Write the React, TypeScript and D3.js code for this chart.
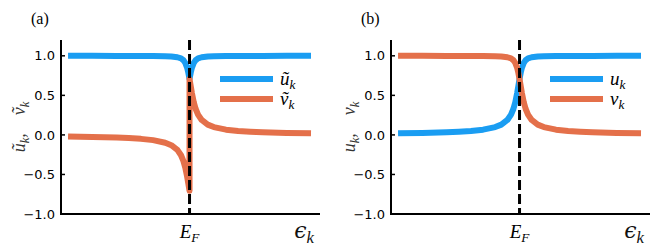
import * as d3 from "d3";

// energy grid (E_F = 0), dense near the Fermi level
const eps = [-1, -0.8, -0.6, -0.5, -0.4, -0.3, -0.2, -0.15, -0.1, -0.07, -0.05, -0.035, -0.02, -0.01, 0,
  0.01, 0.02, 0.035, 0.05, 0.07, 0.1, 0.15, 0.2, 0.3, 0.4, 0.5, 0.6, 0.8, 1];

// panel (b): u_k, v_k
const uK = [0.02, 0.025, 0.033, 0.04, 0.05, 0.066, 0.099, 0.13, 0.189, 0.257, 0.331, 0.413, 0.526, 0.615, 0.707,
  0.788, 0.851, 0.911, 0.944, 0.967, 0.982, 0.992, 0.995, 0.998, 0.999, 0.999, 0.999, 1.0, 1.0];
const vK = [1.0, 1.0, 0.999, 0.999, 0.999, 0.998, 0.995, 0.992, 0.982, 0.967, 0.944, 0.911, 0.851, 0.788, 0.707,
  0.615, 0.526, 0.413, 0.331, 0.257, 0.189, 0.13, 0.099, 0.066, 0.05, 0.04, 0.033, 0.025, 0.02];

// panel (a): ũ_k, ṽ_k (jump at E_F, so 0 appears twice)
const epsA = [-1, -0.8, -0.6, -0.5, -0.4, -0.3, -0.2, -0.15, -0.1, -0.07, -0.05, -0.035, -0.02, -0.01, 0, 0,
  0.01, 0.02, 0.035, 0.05, 0.07, 0.1, 0.15, 0.2, 0.3, 0.4, 0.5, 0.6, 0.8, 1];
const uTilde = [1.0, 1.0, 0.999, 0.999, 0.999, 0.998, 0.995, 0.992, 0.982, 0.967, 0.944, 0.911, 0.851, 0.788, 0.707, 0.707,
  0.788, 0.851, 0.911, 0.944, 0.967, 0.982, 0.992, 0.995, 0.998, 0.999, 0.999, 0.999, 1.0, 1.0];
const vTilde = [-0.02, -0.025, -0.033, -0.04, -0.05, -0.066, -0.099, -0.13, -0.189, -0.257, -0.331, -0.413, -0.526, -0.615, -0.707, 0.707,
  0.615, 0.526, 0.413, 0.331, 0.257, 0.189, 0.13, 0.099, 0.066, 0.05, 0.04, 0.033, 0.025, 0.02];

const yTicks = [-1, -0.5, 0, 0.5, 1];

const BLUE = "#1a9df2";
const ORANGE = "#e4704a";
const SERIF = "'Liberation Serif', 'DejaVu Serif', serif";
const SANS = "'DejaVu Sans', sans-serif";

const x = d3.scaleLinear().domain([-1.058, 1.074]).range([61, 320]);
const y = d3.scaleLinear().domain([-1, 1.2]).range([214, 40]);

type Series = { xs: number[]; ys: number[]; color: string; label: string };

function Sub({ base, sub, size, family }: { base: string; sub: string; size: number; family?: string }) {
  return (
    <>
      <tspan fontFamily={family}>{base}</tspan>
      <tspan fontFamily={SERIF} fontSize={size * 0.7} dy={size * 0.2}>{sub}</tspan>
    </>
  );
}

function Panel({ dx, tag, series, yLabel }: { dx: number; tag: string; series: Series[]; yLabel: [string, string] }) {
  const line = d3.line<[number, number]>().x((d) => x(d[0])).y((d) => y(d[1]));
  const x0 = x.range()[0];
  const x1 = x.range()[1];
  const yb = y.range()[0];
  const yt = y.range()[1];
  return (
    <g transform={`translate(${dx},0)`}>
      <text x={31} y={24} fontFamily={SERIF} fontSize={16}>{tag}</text>

      {series.map((s) => (
        <path key={s.label} d={line(s.xs.map((v, i) => [v, s.ys[i]]) as [number, number][]) ?? ""}
          fill="none" stroke={s.color} strokeWidth={6} strokeLinejoin="round" />
      ))}

      <line x1={x(0)} x2={x(0)} y1={yt} y2={yb} stroke="#000" strokeWidth={3} strokeDasharray="10,4" />

      {/* spines */}
      <line x1={x0} x2={x0} y1={yt} y2={yb + 1} stroke="#000" strokeWidth={2} />
      <line x1={x0 - 1} x2={x1} y1={yb} y2={yb} stroke="#000" strokeWidth={2} />

      {yTicks.map((t) => (
        <g key={t}>
          <line x1={x0} x2={x0 + 4} y1={y(t)} y2={y(t)} stroke="#000" strokeWidth={1.5} />
          <text x={55} y={y(t)} dy="0.36em" textAnchor="end" fontFamily={SANS} fontSize={13}>
            {d3.format(".1f")(t).replace("-", "\u2212")}
          </text>
        </g>
      ))}
      <line x1={x(0)} x2={x(0)} y1={yb} y2={yb - 4} stroke="#000" strokeWidth={1.5} />

      <text x={x(0)} y={238} textAnchor="middle" fontFamily={SERIF} fontStyle="italic" fontSize={19}>
        <Sub base="E" sub="F" size={19} />
      </text>
      <text x={314} y={238} textAnchor="end" fontFamily={SERIF} fontStyle="italic" fontSize={22} fill="#111">
        <Sub base={"\u03f5"} sub="k" size={24} family="'DejaVu Serif', serif" />
      </text>

      <text transform={`translate(25,127) rotate(-90)`} textAnchor="middle" fontFamily={SERIF}
        fontStyle="italic" fontSize={18} fill="#333">
        <Sub base={yLabel[0]} sub="k" size={18} />
        <tspan dy={-18 * 0.2}>{",\u2002\u2002"}</tspan>
        <Sub base={yLabel[1]} sub="k" size={18} />
      </text>

      {series.map((s, i) => (
        <g key={"lg" + s.label} transform={`translate(0,${79 + i * 20})`}>
          <line x1={220} x2={273} y1={0} y2={0} stroke={s.color} strokeWidth={6} />
          <text x={280} y={6} fontFamily={SERIF} fontStyle="italic" fontSize={19}>
            <Sub base={s.label} sub="k" size={19} />
          </text>
        </g>
      ))}
    </g>
  );
}

export default function App() {
  return (
    <svg width={672} height={246} style={{ position: "absolute", left: 0, top: 0, background: "#fff" }}>
      <Panel dx={0} tag="(a)" yLabel={["\u0169", "\u1e7d"]}
        series={[
          { xs: epsA, ys: uTilde, color: BLUE, label: "\u0169" },
          { xs: epsA, ys: vTilde, color: ORANGE, label: "\u1e7d" },
        ]} />
      <Panel dx={330} tag="(b)" yLabel={["u", "v"]}
        series={[
          { xs: eps, ys: uK, color: BLUE, label: "u" },
          { xs: eps, ys: vK, color: ORANGE, label: "v" },
        ]} />
    </svg>
  );
}
